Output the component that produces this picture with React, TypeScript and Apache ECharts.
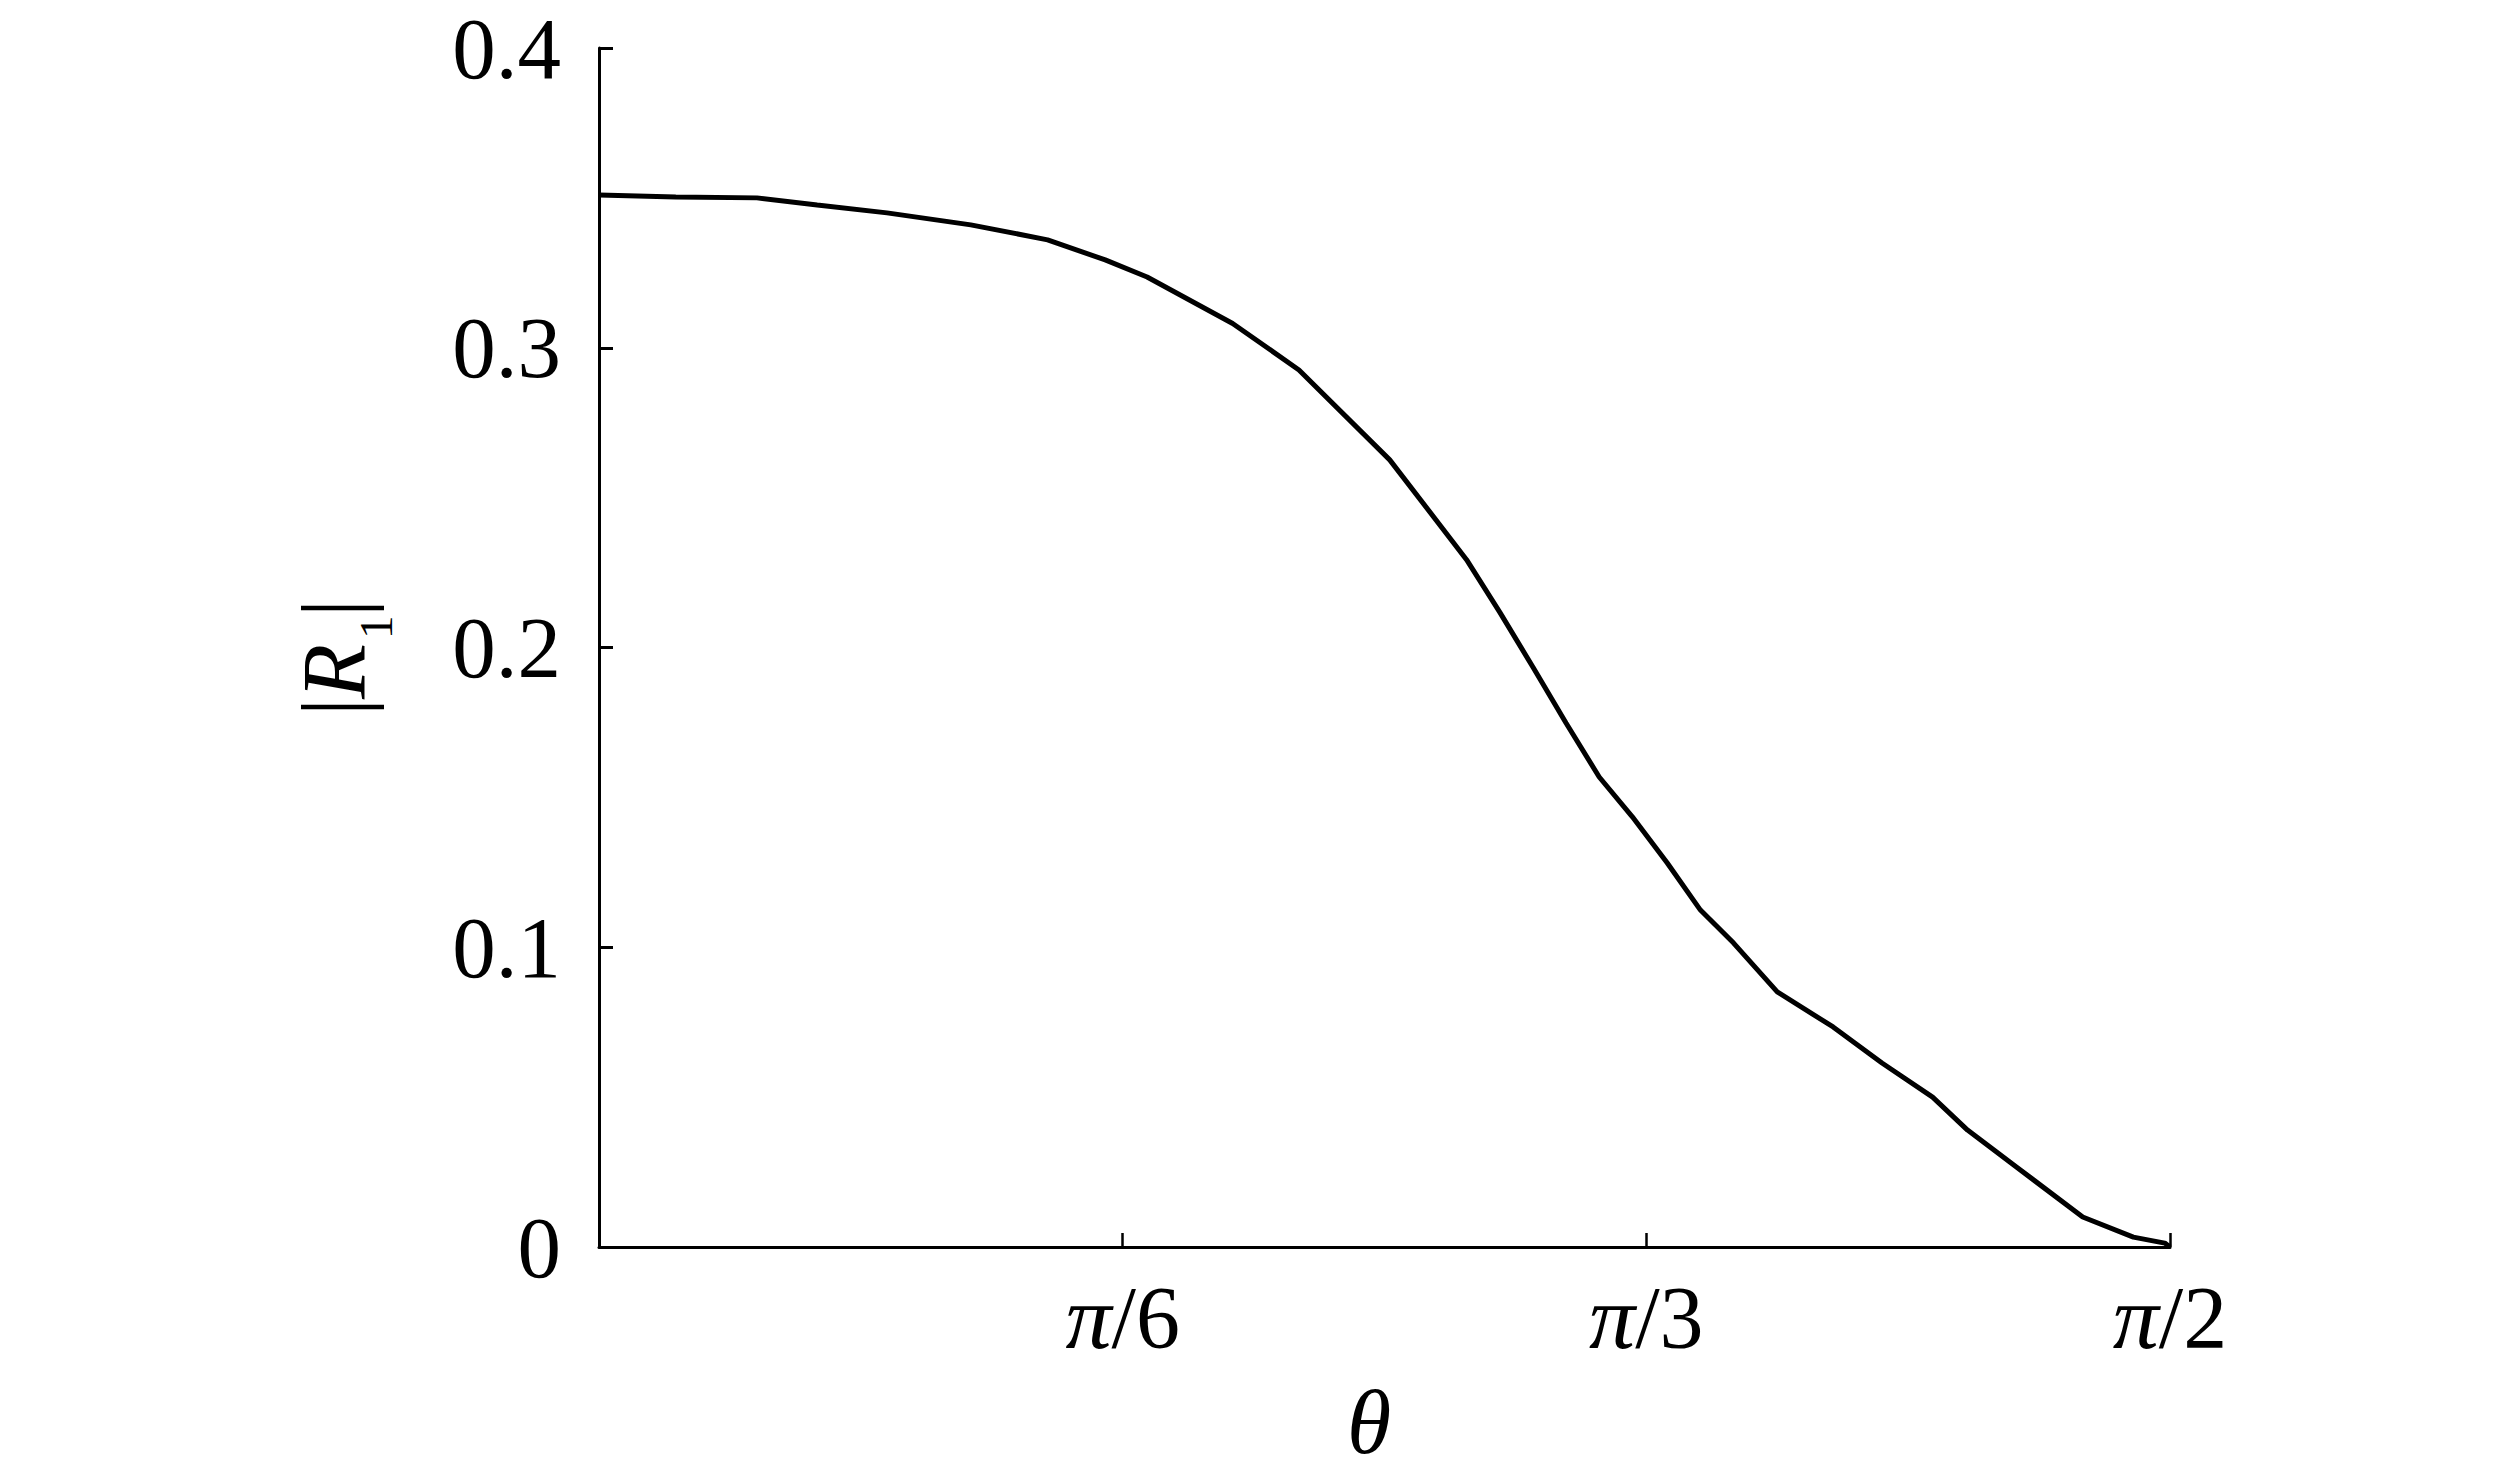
import React, { useEffect, useRef } from "react";
import * as echarts from "echarts";

// theta in degrees (axis labelled in fractions of pi), |R1| values
const thetaDeg: number[] = [
  0, 4.4, 9.05, 12.5, 16.5, 21.3, 25.7, 29.0, 31.4, 36.3, 40.1, 45.3, 49.7, 51.6,
  53.5, 55.4, 57.3, 59.2, 61.2, 63.1, 65.0, 67.5, 70.7, 73.5, 76.4, 78.4, 81.2,
  85.0, 87.9, 89.7, 90,
];
const r1Values: number[] = [
  0.351, 0.3503, 0.35, 0.3476, 0.345, 0.341, 0.336, 0.3293, 0.3236, 0.3081, 0.2926,
  0.2626, 0.2293, 0.2118, 0.1935, 0.1748, 0.1568, 0.1435, 0.1281, 0.1124, 0.1014,
  0.0851, 0.0734, 0.0614, 0.05, 0.039, 0.0267, 0.01, 0.0033, 0.0013, 0.0,
];
const xTickValues: number[] = [30, 60, 90];
const xTickLabels: string[] = ["{i|π}/6", "{i|π}/3", "{i|π}/2"];

const FONT = "'Liberation Serif', 'Times New Roman', serif";

export default function App() {
  const ref = useRef<HTMLDivElement>(null);
  useEffect(() => {
    document.body.style.margin = "0";
    if (!ref.current) return;
    const chart = echarts.init(ref.current, undefined, { renderer: "svg" });
    const data = thetaDeg.map((t, i) => [t, r1Values[i]]);
    const nameFs = 90;
    const subFs = 47;
    chart.setOption({
      animation: false,
      backgroundColor: "#ffffff",
      grid: { left: 599, right: 350, top: 48, bottom: 233, containLabel: false },
      xAxis: {
        type: "value",
        min: 0,
        max: 90,
        interval: 30,
        axisLine: { show: true, lineStyle: { color: "#000", width: 3 } },
        axisTick: { show: true, inside: true, length: 14, lineStyle: { color: "#000", width: 2.5 } },
        splitLine: { show: false },
        axisLabel: {
          margin: 24,
          color: "#000",
          fontFamily: FONT,
          fontSize: 88,
          formatter: (v: number) => {
            const idx = xTickValues.indexOf(Math.round(v));
            return idx >= 0 ? xTickLabels[idx] : "";
          },
          rich: {
            i: { fontFamily: FONT, fontStyle: "italic", fontSize: 92, color: "#000" },
          },
        },
      },
      yAxis: {
        type: "value",
        min: 0,
        max: 0.4,
        interval: 0.1,
        axisLine: { show: true, lineStyle: { color: "#000", width: 3 } },
        axisTick: { show: true, inside: true, length: 14, lineStyle: { color: "#000", width: 3 } },
        splitLine: { show: false },
        axisLabel: {
          margin: 38,
          color: "#000",
          fontFamily: FONT,
          fontSize: 87,
        },
      },
      series: [
        {
          type: "line",
          data,
          showSymbol: false,
          smooth: false,
          lineStyle: { color: "#000", width: 5 },
        },
      ],
      graphic: [
        {
          type: "text",
          x: 1369,
          y: 1422,
          style: {
            text: "θ",
            fontFamily: FONT,
            fontStyle: "italic",
            fontSize: 90,
            fill: "#000",
            textAlign: "center",
            textVerticalAlign: "middle",
          },
        },
        {
          type: "group",
          x: 365,
          y: 716,
          rotation: Math.PI / 2,
          children: [
            {
              type: "text",
              x: 0,
              y: -0.3375 * nameFs,
              style: { text: "|", fontFamily: FONT, fontSize: nameFs, fill: "#000", textAlign: "left", textVerticalAlign: "middle" },
            },
            {
              type: "text",
              x: 17,
              y: -0.3375 * nameFs,
              style: { text: "R", fontFamily: FONT, fontStyle: "italic", fontSize: nameFs, fill: "#000", textAlign: "left", textVerticalAlign: "middle" },
            },
            {
              type: "text",
              x: 77,
              y: 27 - 0.3375 * subFs,
              style: { text: "1", fontFamily: FONT, fontSize: subFs, fill: "#000", textAlign: "left", textVerticalAlign: "middle" },
            },
            {
              type: "text",
              x: 99,
              y: -0.3375 * nameFs,
              style: { text: "|", fontFamily: FONT, fontSize: nameFs, fill: "#000", textAlign: "left", textVerticalAlign: "middle" },
            },
          ],
        },
      ],
    });
    return () => chart.dispose();
  }, []);
  return (
    <div
      ref={ref}
      style={{ position: "fixed", left: 0, top: 0, width: 2520, height: 1480, background: "#fff" }}
    />
  );
}
